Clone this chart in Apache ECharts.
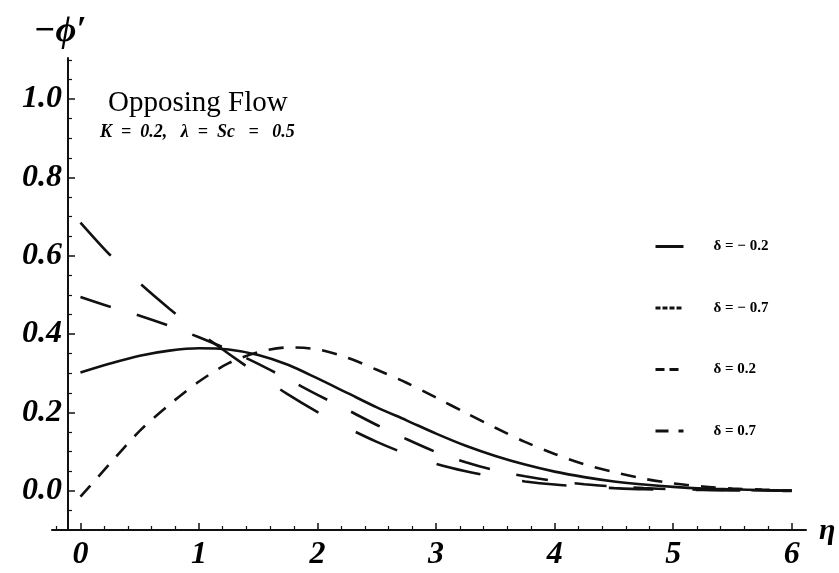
<!DOCTYPE html>
<html>
<head>
<meta charset="utf-8">
<script src="https://cdn.jsdelivr.net/npm/echarts@6/dist/echarts.min.js"></script>
<style>
  html, body { margin: 0; padding: 0; background: #ffffff; }
  #chart { width: 839px; height: 573px; }
</style>
</head>
<body>
<div id="chart"></div>
<script>
// Similarity variable eta
const eta = [0, 0.25, 0.5, 0.75, 1, 1.25, 1.5, 1.75, 2, 2.25, 2.5, 2.75, 3,
             3.25, 3.5, 3.75, 4, 4.25, 4.5, 4.75, 5, 5.25, 5.5, 5.75, 6];

// -phi' profiles for each delta
const deltaM02 = [0.302, 0.325, 0.345, 0.358, 0.364, 0.361, 0.347, 0.322, 0.287, 0.250,
                  0.213, 0.180, 0.146, 0.115, 0.089, 0.067, 0.049, 0.035, 0.024, 0.016,
                  0.010, 0.006, 0.004, 0.002, 0.001];
const deltaM07 = [-0.015, 0.070, 0.153, 0.220, 0.279, 0.326, 0.354, 0.366, 0.361, 0.340,
                  0.309, 0.276, 0.238, 0.199, 0.161, 0.125, 0.094, 0.068, 0.048, 0.031,
                  0.019, 0.011, 0.006, 0.003, 0.001];
const deltaP02 = [0.495, 0.470, 0.447, 0.421, 0.392, 0.360, 0.324, 0.285, 0.245, 0.207,
                  0.168, 0.132, 0.099, 0.073, 0.052, 0.037, 0.025, 0.017, 0.011, 0.007,
                  0.004, 0.003, 0.002, 0.001, 0.000];
const deltaP07 = [0.685, 0.602, 0.530, 0.465, 0.405, 0.350, 0.297, 0.246, 0.201, 0.161,
                  0.125, 0.094, 0.069, 0.050, 0.035, 0.024, 0.016, 0.011, 0.007, 0.004,
                  0.003, 0.002, 0.001, 0.000, 0.000];

const seriesNames = ['δ = − 0.2', 'δ = − 0.7', 'δ = 0.2', 'δ = 0.7'];

// Axis ticks
const xMajorTicks = [0, 1, 2, 3, 4, 5, 6];
const xMinorTicks = [-0.2, 0.2, 0.4, 0.6, 0.8, 1.2, 1.4, 1.6, 1.8, 2.2, 2.4, 2.6, 2.8,
                     3.2, 3.4, 3.6, 3.8, 4.2, 4.4, 4.6, 4.8, 5.2, 5.4, 5.6, 5.8];
const yMajorTicks = [0, 0.2, 0.4, 0.6, 0.8, 1.0];
const yMinorTicks = [-0.05, 0.05, 0.1, 0.15, 0.25, 0.3, 0.35, 0.45, 0.5, 0.55, 0.65, 0.7,
                     0.75, 0.85, 0.9, 0.95, 1.05, 1.1];

const serif = 'Liberation Serif, Times New Roman, serif';
const ink = '#111111';

const pairs = (ys) => eta.map((x, i) => [x, ys[i]]);

const lineSeries = (name, ys, dash) => ({
  name: name,
  type: 'line',
  data: pairs(ys),
  smooth: 0.3,
  symbol: 'none',
  showSymbol: false,
  xAxisIndex: 0,
  yAxisIndex: 0,
  lineStyle: { color: ink, width: 2.6, type: dash, cap: 'butt' },
  itemStyle: { color: ink },
  emphasis: { disabled: true },
  z: 3
});

const chart = echarts.init(document.getElementById('chart'), null, { renderer: 'canvas' });

chart.setOption({
  animation: false,
  backgroundColor: '#ffffff',
  title: [
    {
      text: 'Opposing Flow',
      left: 108, top: 89, padding: 0,
      textStyle: { fontFamily: serif, fontWeight: 'normal', fontSize: 29, color: '#000' }
    },
    {
      text: 'K  =  0.2,   λ  =  Sc   =   0.5',
      left: 100, top: 123, padding: 0,
      textStyle: { fontFamily: serif, fontStyle: 'italic', fontWeight: 'bold', fontSize: 18, color: '#000' }
    }
  ],
  legend: {
    orient: 'vertical',
    left: 654, top: 239,
    itemWidth: 28, itemHeight: 14, itemGap: 46.5,
    padding: 0,
    selectedMode: false,
    itemStyle: { color: 'rgba(0,0,0,0)', borderColor: 'rgba(0,0,0,0)', borderWidth: 0 },
    lineStyle: { width: 3 },
    textStyle: { fontFamily: serif, fontSize: 15, fontWeight: 'bold', color: '#000', padding: [0, 0, 0, 25], lineHeight: 14 },
    data: [
      { name: seriesNames[0] },
      { name: seriesNames[1], lineStyle: { type: [5, 2] } },
      { name: seriesNames[2], lineStyle: { type: [9, 5] } },
      { name: seriesNames[3], lineStyle: { type: [13, 10] } }
    ]
  },
  grid: { left: 52, right: 33, top: 58, bottom: 43, containLabel: false },
  xAxis: [
    {
      type: 'value', position: 'bottom', min: -0.24, max: 6.12,
      name: 'η', nameLocation: 'end', nameGap: 13,
      nameTextStyle: { fontFamily: serif, fontStyle: 'italic', fontWeight: 'bold', fontSize: 30, color: '#000', align: 'left', verticalAlign: 'top', padding: [-14, 0, 0, 0] },
      axisLine: { onZero: false, lineStyle: { color: ink, width: 2 } },
      axisTick: { inside: true, length: 7, customValues: xMajorTicks, lineStyle: { color: ink, width: 1.5 } },
      axisLabel: {
        customValues: xMajorTicks, margin: 9,
        fontFamily: serif, fontStyle: 'italic', fontWeight: 'bold', fontSize: 32, color: '#000',
        formatter: (v) => String(Math.round(v))
      },
      splitLine: { show: false }
    },
    {
      type: 'value', position: 'bottom', min: -0.24, max: 6.12,
      axisLine: { show: false, onZero: false },
      axisTick: { inside: true, length: 4, customValues: xMinorTicks, lineStyle: { color: ink, width: 1.2 } },
      axisLabel: { show: false },
      splitLine: { show: false }
    }
  ],
  yAxis: [
    {
      type: 'value', position: 'left', offset: -16, min: -0.1, max: 1.105,
      name: '−ϕ′', nameLocation: 'end', nameGap: 8,
      nameTextStyle: { fontFamily: serif, fontStyle: 'italic', fontWeight: 'bold', fontSize: 36, color: '#000', padding: [0, 16, 0, 0] },
      axisLine: { onZero: false, lineStyle: { color: ink, width: 2 } },
      axisTick: { inside: true, length: 7, customValues: yMajorTicks, lineStyle: { color: ink, width: 1.5 } },
      axisLabel: {
        customValues: yMajorTicks, margin: 6,
        fontFamily: serif, fontStyle: 'italic', fontWeight: 'bold', fontSize: 32, color: '#000',
        formatter: (v) => v.toFixed(1)
      },
      splitLine: { show: false }
    },
    {
      type: 'value', position: 'left', offset: -16, min: -0.1, max: 1.105,
      axisLine: { show: false, onZero: false },
      axisTick: { inside: true, length: 4, customValues: yMinorTicks, lineStyle: { color: ink, width: 1.2 } },
      axisLabel: { show: false },
      splitLine: { show: false }
    }
  ],
  series: [
    lineSeries(seriesNames[0], deltaM02, 'solid'),
    lineSeries(seriesNames[1], deltaM07, [15, 12]),
    lineSeries(seriesNames[2], deltaP02, [32, 27]),
    lineSeries(seriesNames[3], deltaP07, [45, 42])
  ]
});
</script>
</body>
</html>
